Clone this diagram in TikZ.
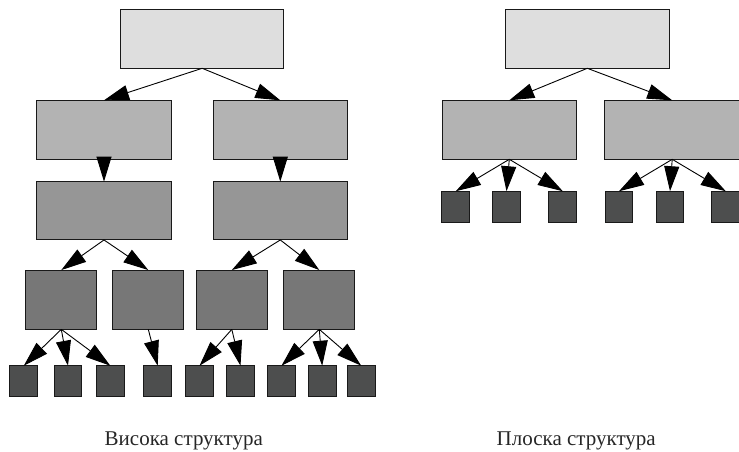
\documentclass[tikz,border=0pt]{standalone}
\usepackage{fontspec}
\setmainfont{Liberation Serif}
\usetikzlibrary{arrows.meta}
\definecolor{boxA}{HTML}{DEDEDE}
\definecolor{boxB}{HTML}{B3B3B3}
\definecolor{boxC}{HTML}{969696}
\definecolor{boxD}{HTML}{777777}
\definecolor{boxE}{HTML}{4D4E4E}
\begin{document}
\begin{tikzpicture}[x=1pt, y=-1pt,
  box/.style={draw=black!90, line width=1pt, inner sep=0pt, outer sep=0pt},
  rootbox/.style={box, fill=boxA, minimum width=163.5pt, minimum height=59pt},
  midbox/.style={box, fill=boxB, minimum width=134.6pt, minimum height=59pt},
  lowbox/.style={box, fill=boxC, minimum width=134.6pt, minimum height=58.3pt},
  subbox/.style={box, fill=boxD, minimum width=71pt, minimum height=59.3pt},
  leaf/.style={box, fill=boxE, minimum width=27.7pt, minimum height=31pt},
  link/.style={line width=0.9pt, -{Triangle[length=25pt,width=15pt]}},
  caption/.style={font=\fontsize{21}{25}\selectfont, text=black!85, anchor=base}]
\useasboundingbox (0,0) rectangle (739,451);
% tall structure
\node[rootbox] (h0) at (202.2,38.8) {};
\node[midbox] (h1) at (104,129.8) {};
\node[midbox] (h2) at (280.3,129.8) {};
\node[lowbox] (h3) at (104,210.8) {};
\node[lowbox] (h4) at (280.3,210.8) {};
\node[subbox] (h5) at (61.3,299.7) {};
\node[subbox] (h6) at (148.3,299.7) {};
\node[subbox] (h7) at (231.8,299.7) {};
\node[subbox] (h8) at (319.3,299.7) {};
\node[leaf] (q1) at (23.8,381.2) {};
\node[leaf] (q2) at (68,381.2) {};
\node[leaf] (q3) at (110.3,381.2) {};
\node[leaf] (q4) at (157.7,381.2) {};
\node[leaf] (q5) at (199.5,381.2) {};
\node[leaf] (q6) at (240.5,381.2) {};
\node[leaf] (q7) at (281.5,381.2) {};
\node[leaf] (q8) at (322.2,381.2) {};
\node[leaf] (q9) at (361.2,381.2) {};
\draw[link] (h0.south) -- (h1.north);
\draw[link] (h0.south) -- (h2.north);
\draw[link] (h1.south) -- (h3.north);
\draw[link] (h2.south) -- (h4.north);
\draw[link] (h3.south) -- (h5.north);
\draw[link] (h3.south) -- (h6.north);
\draw[link] (h4.south) -- (h7.north);
\draw[link] (h4.south) -- (h8.north);
\draw[link] (h5.south) -- (q1.north);
\draw[link] (h5.south) -- (q2.north);
\draw[link] (h5.south) -- (q3.north);
\draw[link] (h6.south) -- (q4.north);
\draw[link] (h7.south) -- (q5.north);
\draw[link] (h7.south) -- (q6.north);
\draw[link] (h8.south) -- (q7.north);
\draw[link] (h8.south) -- (q8.north);
\draw[link] (h8.south) -- (q9.north);
\node[caption] (tall) at (183.8,445) {Висока структура};
% flat structure
\node[rootbox] (f0) at (587.3,38.8) {};
\node[midbox] (f1) at (509.3,129.8) {};
\node[midbox] (f2) at (672.2,129.8) {};
\node[leaf] (p1) at (455.8,206.7) {};
\node[leaf] (p2) at (506.5,206.7) {};
\node[leaf] (p3) at (562.8,206.7) {};
\node[leaf] (p4) at (619,206.7) {};
\node[leaf] (p5) at (670,206.7) {};
\node[leaf] (p6) at (725.8,206.7) {};
\draw[link] (f0.south) -- (f1.north);
\draw[link] (f0.south) -- (f2.north);
\draw[link] (f1.south) -- (p1.north);
\draw[link] (f1.south) -- (p2.north);
\draw[link] (f1.south) -- (p3.north);
\draw[link] (f2.south) -- (p4.north);
\draw[link] (f2.south) -- (p5.north);
\draw[link] (f2.south) -- (p6.north);
\node[caption] (flat) at (576.2,445) {Плоска структура};
\end{tikzpicture}
\end{document}
